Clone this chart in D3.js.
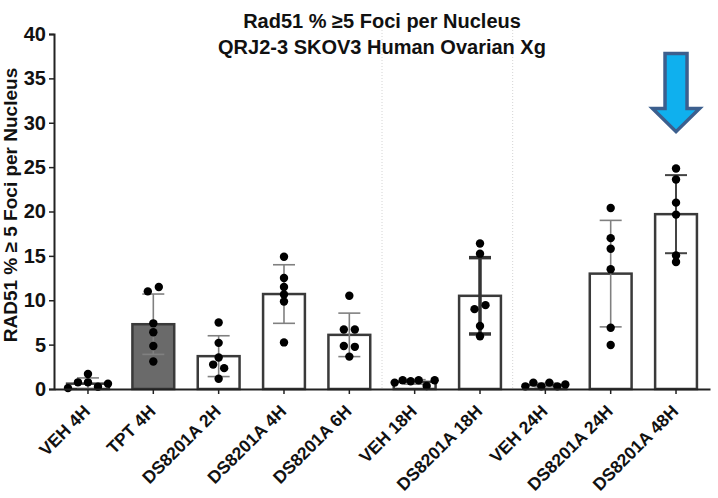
<!DOCTYPE html>
<html>
<head>
<meta charset="utf-8">
<script src="https://cdn.jsdelivr.net/npm/d3@7"></script>
<style>
  html, body { margin: 0; padding: 0; background: #fff; }
  svg { display: block; font-family: "Liberation Sans", Arial, sans-serif; font-weight: bold; }
</style>
</head>
<body>
<svg id="chart" width="718" height="498"></svg>
<script>
// Groups (treatment and time point)
const categories = ["VEH 4H", "TPT 4H", "DS8201A 2H", "DS8201A 4H", "DS8201A 6H",
                    "VEH 18H", "DS8201A 18H", "VEH 24H", "DS8201A 24H", "DS8201A 48H"];
// Group means (% of nuclei with >= 5 Rad51 foci)
const means = [0.6, 7.3, 3.7, 10.7, 6.1, 0.8, 10.5, 0.45, 13.0, 19.7];
// Standard deviations
const sds = [0.65, 3.4, 2.3, 3.3, 2.45, 0.25, 4.3, 0.2, 6.0, 4.4];
// Individual tumours per group
const points = [
  [0.1, 0.75, 1.7, 0.75, 0.25, 0.6],
  [11.0, 11.5, 7.4, 6.4, 4.85, 3.1],
  [7.5, 5.2, 3.55, 2.75, 2.35, 1.15],
  [14.9, 12.5, 11.5, 10.65, 9.85, 5.25],
  [10.5, 6.7, 6.7, 4.85, 4.75, 3.65],
  [0.72, 0.98, 0.87, 0.98, 0.34, 0.98],
  [16.4, 15.25, 9.0, 9.45, 7.1, 5.95],
  [0.3, 0.72, 0.3, 0.72, 0.3, 0.5],
  [20.4, 17.0, 15.8, 13.5, 6.9, 4.95],
  [24.85, 23.6, 21.0, 19.65, 15.05, 14.3]
];
const yTicks = [0, 5, 10, 15, 20, 25, 30, 35, 40];
const highlighted = "DS8201A 48H";

const svg = d3.select("#chart");
const plotLeft = 54, plotRight = 710, plotTop = 34, plotBottom = 389;

const x = d3.scaleBand().domain(categories).range([plotLeft, plotRight])
  .paddingInner(0.36).paddingOuter(0.2);
const y = d3.scaleLinear().domain([0, 40]).range([plotBottom, plotTop]);
const bw = x.bandwidth();
const cx = c => x(c) + bw / 2;

// light dotted separators between time-point blocks
const separators = [[categories[4], categories[5]], [categories[6], categories[7]]];
svg.append("g").selectAll("line").data(separators).join("line")
  .attr("x1", d => (cx(d[0]) + cx(d[1])) / 2)
  .attr("x2", d => (cx(d[0]) + cx(d[1])) / 2)
  .attr("y1", 18).attr("y2", plotBottom)
  .attr("stroke", "#d4d4d4").attr("stroke-width", 1)
  .attr("stroke-dasharray", "1,2");

// bars
const rows = categories.map((c, i) => ({ c, i, m: means[i], sd: sds[i], pts: points[i] }));
svg.append("g").selectAll("rect").data(rows).join("rect")
  .attr("x", d => x(d.c)).attr("width", bw)
  .attr("y", d => y(d.m)).attr("height", d => y(0) - y(d.m))
  .attr("fill", d => d.c === "TPT 4H" ? "#6a6a6a" : "#ffffff")
  .attr("stroke", "#3a3a3a").attr("stroke-width", 2.5);

// error bars (mean +/- SD)
const errStyle = c => c === "DS8201A 18H" ? { col: "#333", w: 3.5 }
                    : c === "DS8201A 48H" ? { col: "#444", w: 2 }
                    : { col: "#808080", w: 1.6 };
const capW = 11;
const eb = svg.append("g").selectAll("g").data(rows).join("g");
eb.append("line")
  .attr("x1", d => cx(d.c)).attr("x2", d => cx(d.c))
  .attr("y1", d => y(Math.max(0, d.m - d.sd))).attr("y2", d => y(d.m + d.sd))
  .attr("stroke", d => errStyle(d.c).col).attr("stroke-width", d => errStyle(d.c).w);
eb.selectAll("line.cap").data(d => [
    { d, v: d.m + d.sd }, { d, v: Math.max(0, d.m - d.sd) }])
  .join("line").attr("class", "cap")
  .attr("x1", e => cx(e.d.c) - capW).attr("x2", e => cx(e.d.c) + capW)
  .attr("y1", e => y(e.v)).attr("y2", e => y(e.v))
  .attr("stroke", e => errStyle(e.d.c).col).attr("stroke-width", e => errStyle(e.d.c).w);

// scatter: points with close values are spread side by side in a row
function spread(vals) {
  const r = vals.map((v, k) => ({ v, k, py: y(v) }));
  const sorted = r.slice().sort((a, b) => a.py - b.py);
  const groups = [];
  sorted.forEach(p => {
    const g = groups[groups.length - 1];
    if (g && p.py - g[g.length - 1].py < 6.5) g.push(p); else groups.push([p]);
  });
  const off = new Array(vals.length).fill(0);
  groups.forEach(g => {
    const n = g.length;
    if (n < 2) return;
    const step = Math.min(11, 40 / (n - 1));
    g.slice().sort((a, b) => a.k - b.k).forEach((p, j) => { off[p.k] = (j - (n - 1) / 2) * step; });
  });
  return off;
}
const dots = [];
rows.forEach(d => {
  const off = spread(d.pts);
  d.pts.forEach((v, k) => dots.push({ c: d.c, v, dx: off[k] }));
});
svg.append("g").selectAll("circle").data(dots).join("circle")
  .attr("cx", d => cx(d.c) + d.dx).attr("cy", d => y(d.v))
  .attr("r", 4.2).attr("fill", "#000");

// axes
const yAxis = svg.append("g").attr("transform", `translate(${plotLeft},0)`)
  .call(d3.axisLeft(y).tickValues(yTicks).tickSize(5).tickPadding(3).tickFormat(d3.format("d")));
yAxis.select(".domain").attr("stroke", "#222").attr("stroke-width", 2);
yAxis.selectAll(".tick line").attr("stroke", "#222").attr("stroke-width", 1.5);
yAxis.selectAll("text").attr("font-size", 20).attr("font-weight", "bold")
  .attr("fill", "#111").attr("font-family", "Liberation Sans, Arial, sans-serif");

const xAxis = svg.append("g").attr("transform", `translate(0,${plotBottom})`)
  .call(d3.axisBottom(x).tickSize(5).tickSizeOuter(0));
xAxis.select(".domain").attr("stroke", "#222").attr("stroke-width", 2);
xAxis.selectAll(".tick line").attr("stroke", "#222").attr("stroke-width", 1.5);
xAxis.selectAll("text")
  .attr("font-size", 17.5).attr("font-weight", "bold").attr("fill", "#111")
  .attr("font-family", "Liberation Sans, Arial, sans-serif")
  .attr("text-anchor", "end")
  .attr("x", 0).attr("y", 0).attr("dy", "0.35em")
  .attr("transform", "translate(-1,19) rotate(-45)");

// axis title
svg.append("text")
  .attr("transform", "translate(17,205) rotate(-90)")
  .attr("text-anchor", "middle").attr("font-size", 19).attr("fill", "#111")
  .text("RAD51 % \u2265 5 Foci per Nucleus");

// chart title
const title = svg.append("text").attr("text-anchor", "middle").attr("font-size", 20).attr("fill", "#111");
title.append("tspan").attr("x", (plotLeft + plotRight) / 2).attr("y", 28).text("Rad51 % \u22655 Foci per Nucleus");
title.append("tspan").attr("x", (plotLeft + plotRight) / 2).attr("y", 54).text("QRJ2-3 SKOV3 Human Ovarian Xg");

// highlight arrow above the 48H group
const ax = cx(highlighted);
const aTop = y(37.8), aNeck = y(31.6), aTip = y(29.0);
const shaft = 11, head = 23.5;
const arrowPath = d3.path();
arrowPath.moveTo(ax - shaft, aTop);
arrowPath.lineTo(ax + shaft, aTop);
arrowPath.lineTo(ax + shaft, aNeck);
arrowPath.lineTo(ax + head, aNeck);
arrowPath.lineTo(ax, aTip);
arrowPath.lineTo(ax - head, aNeck);
arrowPath.lineTo(ax - shaft, aNeck);
arrowPath.closePath();
svg.append("path").attr("d", arrowPath.toString())
  .attr("fill", "#0fb0ee").attr("stroke", "#3c5f8e").attr("stroke-width", 3.5)
  .attr("stroke-linejoin", "miter");
</script>
</body>
</html>
